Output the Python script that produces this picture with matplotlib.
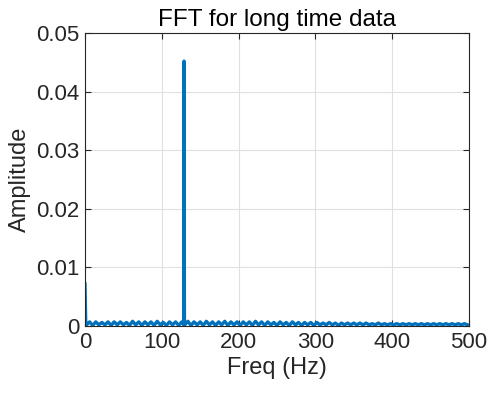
import numpy as np
import matplotlib
matplotlib.use("Agg")
import matplotlib.pyplot as plt

plt.rcParams['font.family'] = ['Liberation Sans', 'DejaVu Sans']

# spectrum
dc_freq = [0, 1]
dc_amp = [0.0072, 0.0004]

peak_freq = [128.5, 129, 129.5]
peak_amp = [0.0002, 0.0452, 0.0002]

noise_freq = np.arange(2, 500, 4)
noise_amp = [
    0.0002, 0.0007, 0.0001, 0.0007, 0.0002, 0.0006, 0.0002, 0.0007, 0.0001, 0.0007,
    0.0002, 0.0007, 0.0002, 0.0006, 0.0001, 0.0008, 0.0002, 0.0007, 0.0001, 0.0007,
    0.0002, 0.0007, 0.0001, 0.0008, 0.0002, 0.0006, 0.0001, 0.0007, 0.0002, 0.0007,
    0.0001, 0.0007, 0.0002, 0.0008, 0.0001, 0.0007, 0.0002, 0.0007, 0.0001, 0.0008,
    0.0002, 0.0007, 0.0001, 0.0007, 0.0002, 0.0008, 0.0001, 0.0007, 0.0002, 0.0007,
    0.0001, 0.0007, 0.0002, 0.0007, 0.0001, 0.0008, 0.0002, 0.0007, 0.0001, 0.0007,
    0.0002, 0.0006, 0.0001, 0.0007, 0.0002, 0.0006, 0.0001, 0.0007, 0.0002, 0.0006,
    0.0001, 0.0006, 0.0002, 0.0006, 0.0001, 0.0006, 0.0002, 0.0005, 0.0002, 0.0006,
    0.0002, 0.0005, 0.0001, 0.0005, 0.0002, 0.0005, 0.0002, 0.0005, 0.0002, 0.0005,
    0.0002, 0.0005, 0.0002, 0.0004, 0.0002, 0.0005, 0.0002, 0.0004, 0.0002, 0.0004,
    0.0002, 0.0004, 0.0002, 0.0004, 0.0002, 0.0004, 0.0002, 0.0004, 0.0002, 0.0004,
    0.0002, 0.0004, 0.0002, 0.0004, 0.0002, 0.0004, 0.0002, 0.0004, 0.0002, 0.0004,
    0.0002, 0.0004, 0.0002, 0.0004, 0.0002,
]

x_ticks = [0, 100, 200, 300, 400, 500]
y_ticks = [0, 0.01, 0.02, 0.03, 0.04, 0.05]
y_labels = ['0', '0.01', '0.02', '0.03', '0.04', '0.05']

freq = np.concatenate([dc_freq, noise_freq, peak_freq])
amp = np.concatenate([dc_amp, noise_amp, peak_amp])
order = np.argsort(freq, kind='stable')
freq = freq[order]
amp = amp[order]

fig = plt.figure(figsize=(4.87, 3.95), dpi=100)
ax = fig.add_axes([0.1745, 0.1747, 0.7885, 0.7418])

ax.plot(freq, amp, color='#0072BD', lw=2.4, solid_joinstyle='round')

ax.set_xlim(0, 500)
ax.set_ylim(0, 0.05)
ax.set_xticks(x_ticks)
ax.set_yticks(y_ticks)
ax.set_yticklabels(y_labels)
ax.grid(True, color='#e0e0e0', lw=0.8)
ax.set_axisbelow(True)

ax.tick_params(direction='in', length=4, width=0.8, top=True, right=True,
               labelsize=16, colors='#262626', pad=4)
for s in ax.spines.values():
    s.set_color('#262626')
    s.set_linewidth(0.8)

ax.set_title('FFT for long time data', fontsize=17.5, color='black', pad=5)
ax.set_xlabel('Freq (Hz)', fontsize=17, color='#262626', labelpad=3)
ax.set_ylabel('Amplitude', fontsize=17, color='#262626', labelpad=4)

fig.savefig('out.png', dpi=100)
